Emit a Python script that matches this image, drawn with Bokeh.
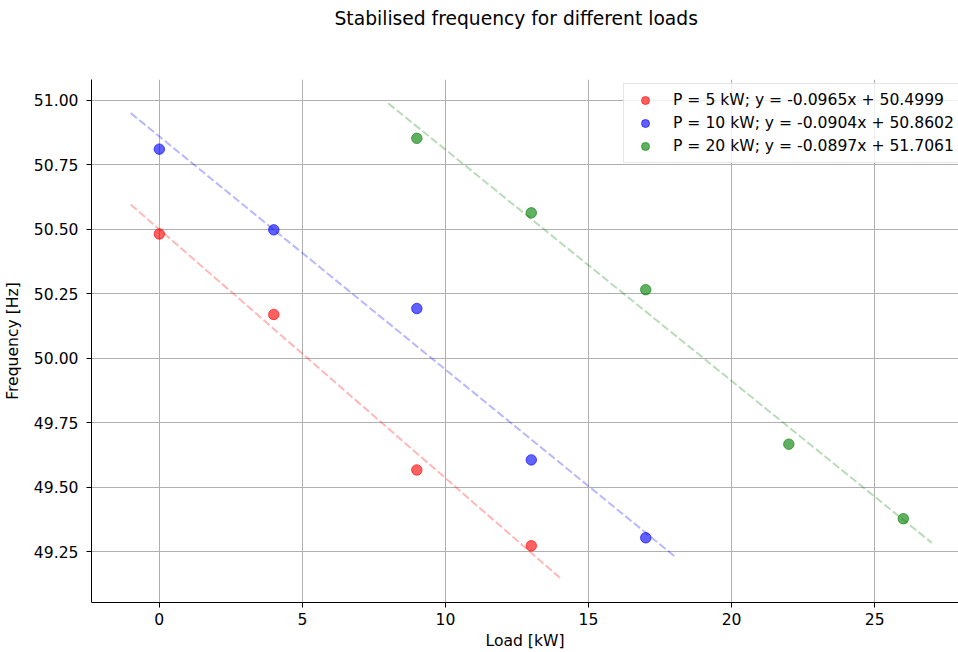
from bokeh.plotting import figure
from bokeh.embed import file_html
from bokeh.resources import INLINE
from bokeh.models import Range1d, FixedTicker, NumeralTickFormatter, Legend, Title

# ---- data ----
loads_5 = [0, 4, 9, 13]
freq_5 = [50.482, 50.170, 49.567, 49.273]
loads_10 = [0, 4, 9, 13, 17]
freq_10 = [50.811, 50.498, 50.193, 49.606, 49.304]
loads_20 = [9, 13, 17, 22, 26]
freq_20 = [50.853, 50.564, 50.266, 49.667, 49.378]

slopes = [-0.0965, -0.0904, -0.0897]
intercepts = [50.4999, 50.8602, 51.7061]
fit_ranges = [(-1, 14), (-1, 18), (8, 27)]
labels = ["P = 5 kW; y = -0.0965x + 50.4999",
          "P = 10 kW; y = -0.0904x + 50.8602",
          "P = 20 kW; y = -0.0897x + 51.7061"]
colors = ["red", "blue", "green"]
title_text = "Stabilised frequency for different loads"

x_ticks = [0, 5, 10, 15, 20, 25]
y_ticks = [49.25, 49.50, 49.75, 50.00, 50.25, 50.50, 50.75, 51.00]

FONT = "DejaVu Sans"
FS = "15.6px"

p = figure(width=958, height=652, output_backend="svg", toolbar_location=None,
           x_range=Range1d(-2.37, 27.93), y_range=Range1d(49.053, 51.081),
           min_border_left=90, min_border_top=79, min_border_bottom=49, min_border_right=0)

# spacer between title and frame (closest to the frame), then the title
p.add_layout(Title(text=" ", text_font=FONT, text_font_size="29px", standoff=10), "above")
p.add_layout(Title(text=title_text, text_font=FONT, text_font_size="18.7px",
                   text_font_style="normal", text_color="black", align="left",
                   offset=243, standoff=10), "above")

p.outline_line_color = None
for ax in (p.xaxis[0], p.yaxis[0]):
    ax.axis_line_color = "black"
    ax.axis_line_width = 1
    ax.major_tick_line_color = "black"
    ax.major_tick_out = 5
    ax.major_tick_in = 0
    ax.minor_tick_line_color = None
    ax.major_label_text_font = FONT
    ax.major_label_text_font_size = FS
    ax.major_label_text_color = "black"
    ax.axis_label_text_font = FONT
    ax.axis_label_text_font_size = FS
    ax.axis_label_text_font_style = "normal"
    ax.axis_label_text_color = "black"

p.xaxis.axis_label = "Load [kW]"
p.yaxis.axis_label = "Frequency [Hz]"
p.xaxis.ticker = FixedTicker(ticks=x_ticks)
p.yaxis.ticker = FixedTicker(ticks=y_ticks)
p.yaxis.formatter = NumeralTickFormatter(format="0.00")
p.xaxis.major_label_standoff = 5
p.yaxis.major_label_standoff = 8
p.xaxis.axis_label_standoff = 4
p.yaxis.axis_label_standoff = 9

p.grid.grid_line_color = "#b0b0b0"
p.grid.grid_line_width = 1

series = [(loads_5, freq_5), (loads_10, freq_10), (loads_20, freq_20)]
items = []
for (xs, ys), m, b, (x0, x1), lab, c in zip(series, slopes, intercepts, fit_ranges, labels, colors):
    fx = [x0, x1]
    fy = [m * v + b for v in fx]
    p.line(fx, fy, line_color=c, line_alpha=0.28, line_width=2, line_dash="8 3")
    r = p.scatter(xs, ys, size=10.5, fill_color=c, fill_alpha=0.62, line_color=c, line_alpha=0.62)
    items.append((lab, [r]))

legend = Legend(items=items, location=(532, 439))
legend.label_text_font = FONT
legend.label_text_font_size = FS
legend.label_text_color = "black"
legend.background_fill_alpha = 0.8
legend.border_line_color = "#cccccc"
legend.label_height = 20
legend.glyph_height = 20
legend.spacing = 3
legend.padding = 6
legend.margin = 0
legend.glyph_width = 30
legend.label_standoff = 13
p.add_layout(legend)

open("out.html", "w").write(file_html(p, INLINE))
